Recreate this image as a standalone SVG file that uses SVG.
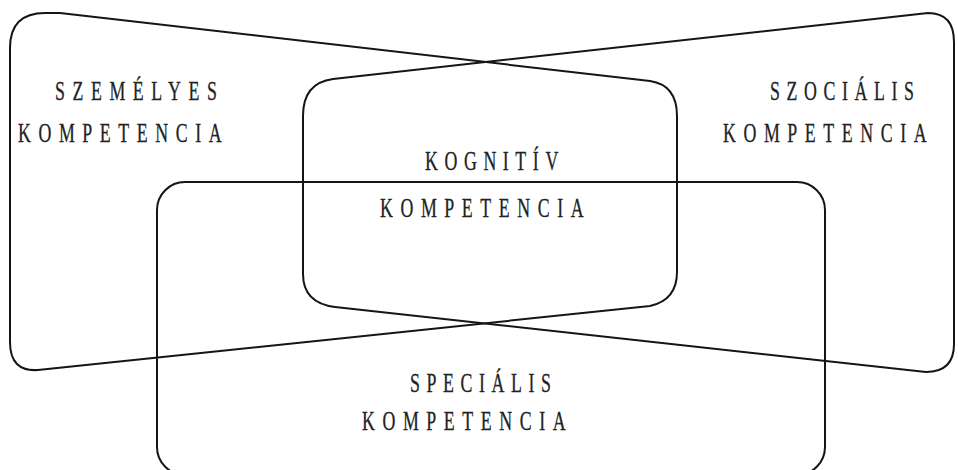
<svg xmlns="http://www.w3.org/2000/svg" width="958" height="470" viewBox="0 0 958 470">
<style>
.shape{fill:none;stroke:#151515;stroke-width:2;stroke-linejoin:round}
.lbl{font-family:"Liberation Serif","Times New Roman",serif;font-size:27px;fill:#222;stroke:#222;stroke-width:0.3px;letter-spacing:11.5px}
.tight{letter-spacing:10px}
</style>
<rect x="0" y="0" width="958" height="470" fill="#fff"/>
<g id="szemelyes">
<path class="shape" d="M 60,13 L 650,81 Q 677,85 677,116 L 677,272 Q 677,300 650,306 L 38,370 Q 10,372 10,342 L 10,48 Q 10,13 45,13 Z"/>
<text class="lbl" transform="translate(55,100) scale(0.66,1)">SZEMÉLYES</text>
<text class="lbl" transform="translate(18,142) scale(0.66,1)">KOMPETENCIA</text>
</g>
<g id="szocialis">
<path class="shape" d="M 333,79 L 928,13 Q 954,13 954,42 L 954,344 Q 954,372 926,372 L 335,307 Q 303,303 303,274 L 303,116 Q 303,83 333,79 Z"/>
<text class="lbl tight" transform="translate(770,100) scale(0.66,1)">SZOCIÁLIS</text>
<text class="lbl" transform="translate(723,142) scale(0.66,1)">KOMPETENCIA</text>
</g>
<g id="kognitiv">
<text class="lbl tight" transform="translate(425,170) scale(0.66,1)">KOGNITÍV</text>
<text class="lbl" transform="translate(380,217) scale(0.66,1)">KOMPETENCIA</text>
</g>
<g id="specialis">
<rect class="shape" x="157" y="182" width="668" height="293" rx="28" ry="28"/>
<text class="lbl tight" transform="translate(410,392) scale(0.66,1)">SPECIÁLIS</text>
<text class="lbl" transform="translate(362,430) scale(0.66,1)">KOMPETENCIA</text>
</g>
</svg>
